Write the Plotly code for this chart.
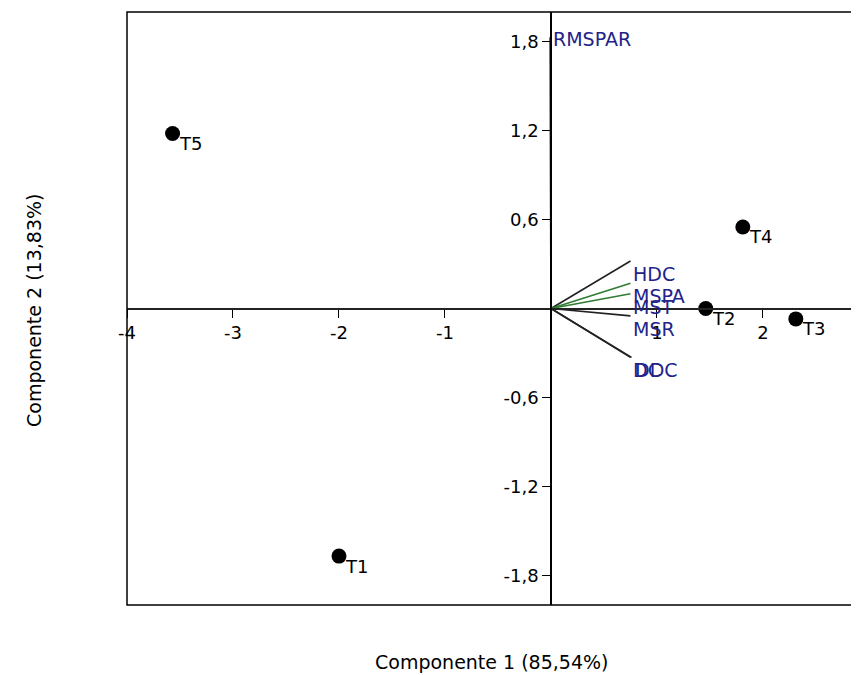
import plotly.graph_objects as go

# Treatments (scores)
trt_names = ["T1", "T2", "T3", "T4", "T5"]
trt_x = [-2.00, 1.46, 2.31, 1.81, -3.57]
trt_y = [-1.67, 0.00, -0.07, 0.55, 1.18]

# Variables (loadings)
var_names = ["RMSPAR", "HDC", "MSPA", "MST", "MSR", "DC", "DDC"]
var_x = [-0.01, 0.75, 0.75, 0.75, 0.75, 0.75, 0.76]
var_y = [1.83, 0.32, 0.17, 0.10, -0.05, -0.33, -0.33]
var_colors = ["#2e7d32", "#222222", "#2e7d32", "#2e7d32", "#222222", "#222222", "#222222"]

x_ticks = [-4, -3, -2, -1, 1, 2]
x_ticktext = ["-4", "-3", "-2", "-1", "1", "2"]
y_ticks = [1.8, 1.2, 0.6, -0.6, -1.2, -1.8]
y_ticktext = ["1,8", "1,2", "0,6", "-0,6", "-1,2", "-1,8"]

x_range = [-4.0, 2.906]
y_range = [-2.0, 2.0]

FONT = "DejaVu Sans, Liberation Sans, sans-serif"

fig = go.Figure()

for n, vx, vy, c in zip(var_names, var_x, var_y, var_colors):
    fig.add_trace(go.Scatter(x=[0, vx], y=[0, vy], mode="lines",
                             line=dict(color=c, width=1.6), showlegend=False, hoverinfo="skip"))

for n, vx, vy in zip(var_names, var_x, var_y):
    is_top = n == "RMSPAR"
    fig.add_annotation(x=vx, y=vy, text=n, showarrow=False, xanchor="left",
                       yanchor="middle" if is_top else "top",
                       xshift=1, yshift=-2 if is_top else 0,
                       font=dict(family=FONT, size=19, color="#23238a"))

fig.add_trace(go.Scatter(x=trt_x, y=trt_y, mode="markers",
                         marker=dict(color="black", size=15), showlegend=False))
for n, tx, ty in zip(trt_names, trt_x, trt_y):
    fig.add_annotation(x=tx, y=ty, text=n, showarrow=False, xanchor="left", yanchor="middle",
                       xshift=4, yshift=-10, font=dict(family=FONT, size=18, color="black"))

x_zero_pos = (0 - x_range[0]) / (x_range[1] - x_range[0])
y_zero_pos = (0 - y_range[0]) / (y_range[1] - y_range[0])

# page body has an 8px default margin, so the figure is sized/offset to compensate
fig.update_layout(
    width=851, height=667,
    margin=dict(l=119, r=0, t=4, b=70),
    plot_bgcolor="white", paper_bgcolor="white",
    xaxis=dict(range=x_range, anchor="free", position=y_zero_pos, showline=True,
               linecolor="#222222", linewidth=2, ticks="outside", ticklen=8,
               tickcolor="black", tickvals=x_ticks, ticktext=x_ticktext,
               showgrid=False, zeroline=False, automargin=False,
               tickfont=dict(family=FONT, size=18, color="black")),
    yaxis=dict(range=y_range, anchor="free", position=x_zero_pos, showline=True,
               linecolor="black", linewidth=1.5, ticks="outside", ticklen=8,
               tickcolor="black", tickvals=y_ticks, ticktext=y_ticktext,
               showgrid=False, zeroline=False, automargin=False,
               tickfont=dict(family=FONT, size=18, color="black")),
    shapes=[dict(type="rect", xref="paper", yref="paper", x0=0, x1=1, y0=0, y1=1,
                 line=dict(color="black", width=1.5))],
)

fig.add_annotation(xref="paper", yref="paper", x=(491 - 127) / 732, y=(605 - 662) / 593,
                   text="Componente 1 (85,54%)", showarrow=False, yanchor="middle",
                   font=dict(family=FONT, size=19, color="black"))
fig.add_annotation(xref="paper", yref="paper", x=(34 - 127) / 732, y=(605 - 311) / 593,
                   text="Componente 2 (13,83%)", showarrow=False, textangle=-90,
                   xanchor="center", yanchor="middle",
                   font=dict(family=FONT, size=19, color="black"))

fig.write_html("out.html")
